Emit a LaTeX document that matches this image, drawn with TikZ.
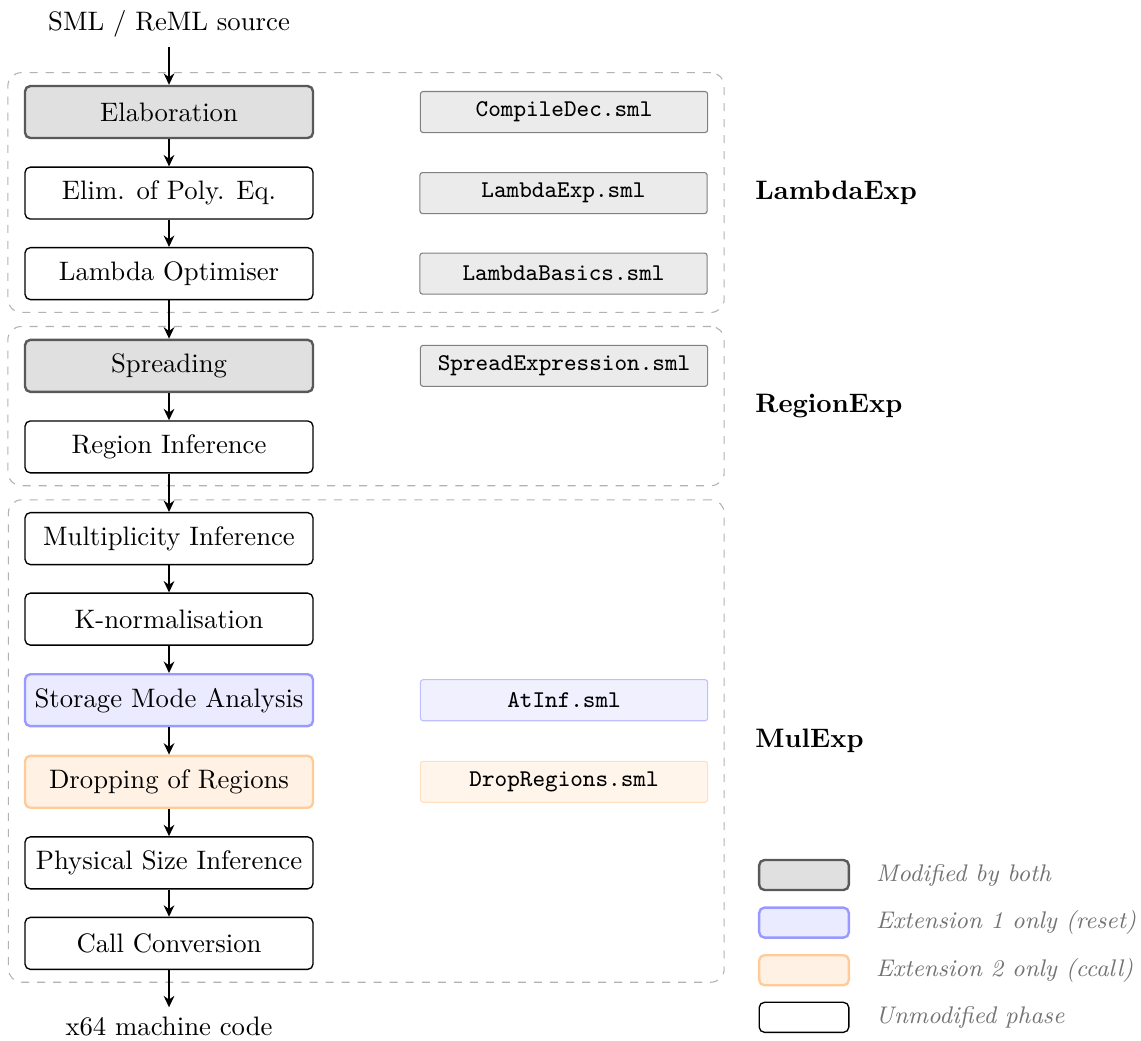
\documentclass[tikz,border=0pt]{standalone}
\usepackage{tikz}
\usetikzlibrary{positioning,arrows.meta,fit,backgrounds}
\tikzset{
phase/.style={
draw,
rounded corners=2pt,
minimum width=3.79cm,
minimum height=0.684cm,
align=center,
fill=white,
line width=0.5pt
},
bothmod/.style={
phase,
fill=black!12,
draw=black!65,
line width=0.9pt
},
extone/.style={
phase,
fill=blue!8,
draw=blue!40,
line width=0.9pt
},
exttwo/.style={
phase,
fill=orange!10,
draw=orange!40,
line width=0.9pt
},
srcfile/.style={
draw=black!50,
fill=black!8,
rounded corners=1pt,
minimum width=3.78cm,
minimum height=0.54cm,
font=\ttfamily\small,
line width=0.4pt
},
group/.style={
draw=black!30,
dashed,
rounded corners=5pt,
inner xsep=0.21cm,
inner ysep=0.16cm
},
grouplabel/.style={
anchor=west,
font=\bfseries
},
legbox/.style={
draw,
rounded corners=2pt,
minimum width=1.18cm,
minimum height=0.395cm,
line width=0.9pt
},
legtext/.style={
text=black!55,
font=\small\itshape
},
arrow/.style={
-{Stealth[length=1.5mm,width=1.4mm]},
line width=0.7pt
}
}

\begin{document}
\begin{tikzpicture}[node distance=0.358cm]
\useasboundingbox (0,0) rectangle (15.013,-13.697);

% phases
\node[bothmod] (elab) at (2.224,-1.474) {Elaboration};
\node[phase,below=of elab] (elim) {Elim. of Poly. Eq.};
\node[phase,below=of elim] (lopt) {Lambda Optimiser};
\node[bothmod,below=0.505cm of lopt] (spread) {Spreading};
\node[phase,below=of spread] (rinf) {Region Inference};
\node[phase,below=0.505cm of rinf] (mult) {Multiplicity Inference};
\node[phase,below=of mult] (knorm) {K-normalisation};
\node[extone,below=of knorm] (sma) {Storage Mode Analysis};
\node[exttwo,below=of sma] (drop) {Dropping of Regions};
\node[phase,below=of drop] (psi) {Physical Size Inference};
\node[phase,below=of psi] (cconv) {Call Conversion};

\node[above=0.50cm of elab] (src) {SML / ReML source};
\node[below=0.49cm of cconv] (out) {x64 machine code};

% source files
\node[srcfile,right=1.39cm of elab] (fcdec) {CompileDec.sml};
\node[srcfile,right=1.39cm of elim] (flexp) {LambdaExp.sml};
\node[srcfile,right=1.39cm of lopt] (flbas) {LambdaBasics.sml};
\node[srcfile,right=1.39cm of spread] (fspread) {SpreadExpression.sml};
\node[srcfile,right=1.39cm of sma,fill=blue!6,draw=blue!25] (fatinf) {AtInf.sml};
\node[srcfile,right=1.39cm of drop,fill=orange!8,draw=orange!25] (fdrop) {DropRegions.sml};

% groups
\begin{scope}[on background layer]
\node[group,fit=(elab)(lopt)(fcdec)] (glam) {};
\node[group,fit=(spread)(rinf)(fspread)] (greg) {};
\node[group,fit=(mult)(cconv)(fatinf)] (gmul) {};
\end{scope}
\node[grouplabel,right=0.28cm of glam] (llam) {LambdaExp};
\node[grouplabel,right=0.28cm of greg] (lreg) {RegionExp};
\node[grouplabel,right=0.28cm of gmul] (lmul) {MulExp};

\draw[arrow](src)--(elab);
\draw[arrow](elab)--(elim);
\draw[arrow](elim)--(lopt);
\draw[arrow](lopt)--(spread);
\draw[arrow](spread)--(rinf);
\draw[arrow](rinf)--(mult);
\draw[arrow](mult)--(knorm);
\draw[arrow](knorm)--(sma);
\draw[arrow](sma)--(drop);
\draw[arrow](drop)--(psi);
\draw[arrow](psi)--(cconv);
\draw[arrow](cconv)--(out);

% legend
\node[legbox,fill=black!12,draw=black!65] (kboth) at (10.579,-11.513) {};
\node[legbox,fill=blue!8,draw=blue!40,below=0.20cm of kboth] (kone) {};
\node[legbox,fill=orange!10,draw=orange!40,below=0.20cm of kone] (ktwo) {};
\node[legbox,fill=white,draw=black,line width=0.5pt,below=0.20cm of ktwo] (knone) {};
\node[legtext,right=0.22cm of kboth] (tboth) {Modified by both};
\node[legtext,right=0.22cm of kone] (tone) {Extension 1 only (reset)};
\node[legtext,right=0.22cm of ktwo] (ttwo) {Extension 2 only (ccall)};
\node[legtext,right=0.22cm of knone] (tnone) {Unmodified phase};
\end{tikzpicture}
\end{document}
